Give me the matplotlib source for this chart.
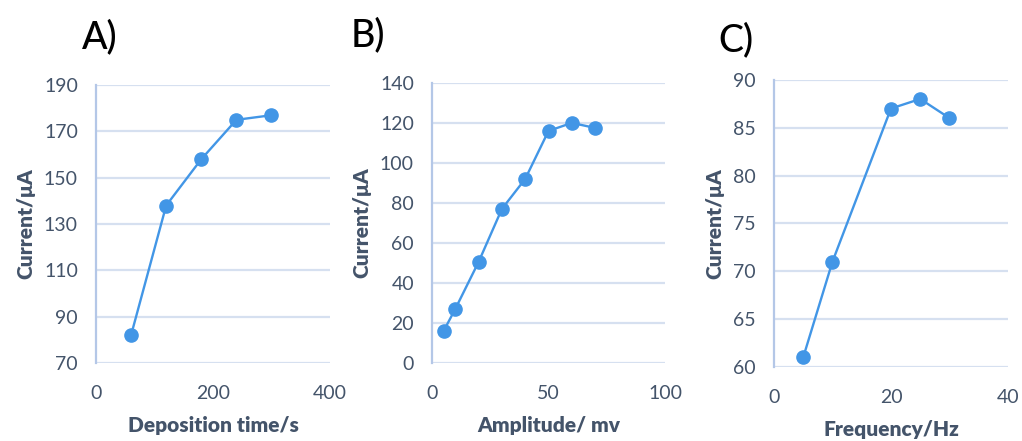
import matplotlib
matplotlib.use("Agg")
import matplotlib.pyplot as plt

# Panel A: deposition time
dep_time = [60, 120, 180, 240, 300]
dep_current = [82, 138, 158, 175, 177]

# Panel B: amplitude
amplitude = [5, 10, 20, 30, 40, 50, 60, 70]
amp_current = [16, 27, 50.5, 77, 92, 116, 120, 117.5]

# Panel C: frequency
frequency = [5, 10, 20, 25, 30]
freq_current = [61, 71, 87, 88, 86]

plt.rcParams['font.family'] = ['Lato', 'DejaVu Sans']

LINE = '#4296E6'
TICK = '#44546A'
GRID = '#D6E0F0'
SPINE = '#B4C7E7'

fig = plt.figure(figsize=(10.22, 4.41), dpi=100)

panels = [
    dict(rect=[0.0939, 0.177, 0.229, 0.630], x=dep_time, y=dep_current,
         xlim=(0, 400), xt=[0, 200, 400], ylim=(70, 190), yt=range(70, 191, 20),
         xlabel='Deposition time/s', tag='A)', tagpos=(0.098, 0.916)),
    dict(rect=[0.4227, 0.177, 0.228, 0.635], x=amplitude, y=amp_current,
         xlim=(0, 100), xt=[0, 50, 100], ylim=(0, 140), yt=range(0, 141, 20),
         xlabel='Amplitude/ mv', tag='B)', tagpos=(0.360, 0.921)),
    dict(rect=[0.7573, 0.168, 0.229, 0.651], x=frequency, y=freq_current,
         xlim=(0, 40), xt=[0, 20, 40], ylim=(60, 90), yt=range(60, 91, 5),
         xlabel='Frequency/Hz', tag='C)', tagpos=(0.720, 0.909)),
]

for p in panels:
    ax = fig.add_axes(p['rect'])
    ax.plot(p['x'], p['y'], color=LINE, lw=1.7, marker='o', ms=9.5,
            markerfacecolor=LINE, markeredgecolor=LINE, clip_on=False, zorder=3)
    ax.set_xlim(*p['xlim'])
    ax.set_ylim(*p['ylim'])
    ax.set_xticks(p['xt'])
    ax.set_yticks(list(p['yt']))
    ax.grid(axis='y', color=GRID, lw=1.6)
    ax.set_axisbelow(True)
    for s in ('top', 'right', 'bottom'):
        ax.spines[s].set_visible(False)
    ax.spines['left'].set_color(SPINE)
    ax.spines['left'].set_linewidth(1.6)
    ax.tick_params(axis='both', length=0, labelsize=14, labelcolor=TICK)
    ax.tick_params(axis='y', pad=13)
    ax.tick_params(axis='x', pad=16)
    ax.set_xlabel(p['xlabel'], fontsize=15, fontweight='heavy', color=TICK, labelpad=10)
    ax.set_ylabel('Current/μA', fontsize=15, fontweight='heavy', color=TICK, labelpad=6)
    fig.text(p['tagpos'][0], p['tagpos'][1], p['tag'], fontsize=27, fontweight='medium',
             color='black', ha='center', va='center')

fig.savefig('out.png', dpi=100)
